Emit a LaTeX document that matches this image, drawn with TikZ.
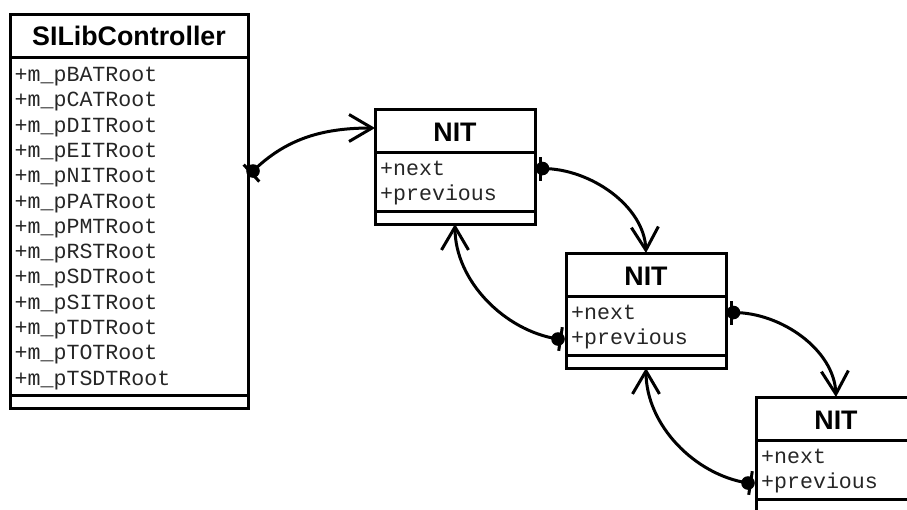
\documentclass[tikz,border=0pt]{standalone}
\usepackage{fontspec}
\setmainfont{Liberation Sans}
\newfontfamily\umlmono{Liberation Mono}
\usetikzlibrary{arrows.meta}

\tikzset{
  umlbox/.style={draw, line width=3pt, inner sep=0pt, outer sep=0pt,
    anchor=north west, fill=white},
  classname/.style={anchor=base, inner sep=0pt,
    font=\fontsize{26.8}{30}\selectfont\bfseries},
  member/.style={anchor=base west, inner sep=0pt, text=black!85,
    font=\fontsize{21.6}{25}\selectfont\umlmono},
  assoc/.style={line width=3pt,
    -{Straight Barb[length=23pt, width=27pt]}},
  balltick/.style={line width=3pt},
  ball/.style={fill=black},
}

% one NIT class box: #1 name prefix, (#2,#3) top-left corner
\newcommand\nitclass[3]{%
  \begin{scope}[shift={(#2,#3)}]
    \node[umlbox, minimum width=160pt, minimum height=43pt] (#1t) at (0,0) {};
    \node[umlbox, minimum width=160pt, minimum height=59pt] (#1a) at (0,43) {};
    \node[umlbox, minimum width=160pt, minimum height=13pt] (#1b) at (0,102) {};
    \node[classname] (#1n) at (80,32) {NIT};
    \node[member] (#1x) at (5,66.5) {+next};
    \node[member] (#1p) at (5,91.8) {+previous};
    % association ports
    \coordinate (#1out) at (167.5,59.5);
    \coordinate (#1back) at (-8,86);
    \coordinate (#1in) at (0,19);
  \end{scope}}

\begin{document}
\begin{tikzpicture}[x=1pt, y=-1pt]
  \useasboundingbox (0,0) rectangle (907,509);
  \fill[white] (0,0) rectangle (907,509);
  \clip (0,0) rectangle (907,509);

  % controller class
  \node[umlbox, minimum width=238pt, minimum height=43pt] (ctlt) at (10,14) {};
  \node[umlbox, minimum width=238pt, minimum height=338pt] (ctla) at (10,57) {};
  \node[umlbox, minimum width=238pt, minimum height=13pt] (ctlb) at (10,395) {};
  \node[classname] (ctln) at (129,45.5) {SILibController};
  \foreach \m [count=\i from 0] in {BAT,CAT,DIT,EIT,NIT,PAT,PMT,RST,SDT,SIT,TDT,TOT,TSDT}
    \node[member] (ctlm\i) at (14.5,81.5+25.3*\i) {+m\_p\m Root};
  \coordinate (ctlout) at (253,171);

  % linked NIT classes
  \nitclass{na}{375}{109}
  \nitclass{nb}{566}{253}
  \nitclass{nc}{756}{397}

  % associations
  \draw[assoc] (ctlout) .. controls +(32,-31) and +(-55,0) .. (nain);
  \draw[assoc] (naout) .. controls +(48,0) and +(-2,-47) .. (nbt.north);
  \draw[assoc] (nbback) .. controls +(-53,-8) and +(0,57) .. (nab.south);
  \draw[assoc] (nbout) .. controls +(48,0) and +(-2,-47) .. (nct.north);
  \draw[assoc] (ncback) .. controls +(-53,-8) and +(0,57) .. (nbb.south);

  % owned ends: ball with a cross tick
  \fill[ball] (ctlout) circle (6.8);
  \draw[balltick] (ctlout) +(6.3,10.6) -- +(-9.3,-6.4);
  \foreach \p in {naout, nbout} {
    \fill[ball] (\p) circle (6.8);
    \draw[balltick] (\p) +(-2.5,12) -- +(-2.5,-12);
  }
  \foreach \p in {nbback, ncback} {
    \fill[ball] (\p) circle (6.8);
    \draw[balltick] (\p) +(4.3,-11.8) -- +(0.7,11.8);
  }
\end{tikzpicture}
\end{document}
